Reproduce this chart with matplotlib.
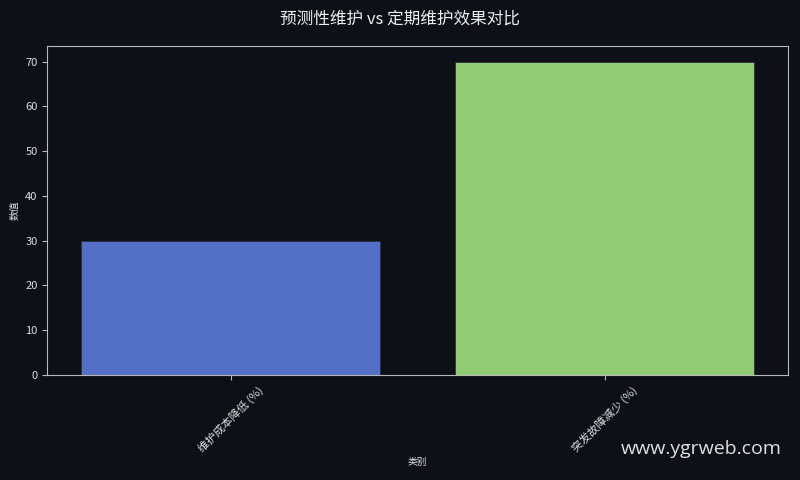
import matplotlib
matplotlib.use('Agg')
import matplotlib.pyplot as plt

plt.rcParams['font.family'] = ['Noto Sans CJK SC', 'DejaVu Sans']
plt.rcParams['axes.unicode_minus'] = False

# 数据
categories = ['维护成本降低 (%)', '突发故障减少 (%)']
values = [30, 70]
colors = ['#5470c6', '#91cc75']

bg = '#0d1017'
fg = '#e0e0e0'

fig = plt.figure(figsize=(8, 4.8), dpi=100, facecolor=bg)
ax = fig.add_axes([0.059, 0.219, 0.926, 0.685])
ax.set_facecolor(bg)

ax.bar(range(len(categories)), values, width=0.8, color=colors,
       edgecolor='#2a3040', linewidth=0.6)

ax.set_xticks(range(len(categories)))
ax.set_xticklabels(categories, rotation=45, ha='center', fontsize=8)
ax.tick_params(axis='both', colors='#b8b8b8', labelcolor=fg)
ax.tick_params(axis='y', labelsize=8)
for s in ax.spines.values():
    s.set_color('#b8b8b8')

ax.set_xlabel('类别', fontsize=7, color=fg, labelpad=2)
ax.set_ylabel('数值', fontsize=7, color=fg)
fig.suptitle('预测性维护 vs 定期维护效果对比', fontsize=12, color='#eeeeee', y=0.978)

fig.text(0.977, 0.065, 'www.ygrweb.com', fontsize=14, color='#e0e0e0',
         ha='right', va='center', family=['Open Sans', 'DejaVu Sans'])

fig.savefig('out.png', dpi=100, facecolor=bg)
